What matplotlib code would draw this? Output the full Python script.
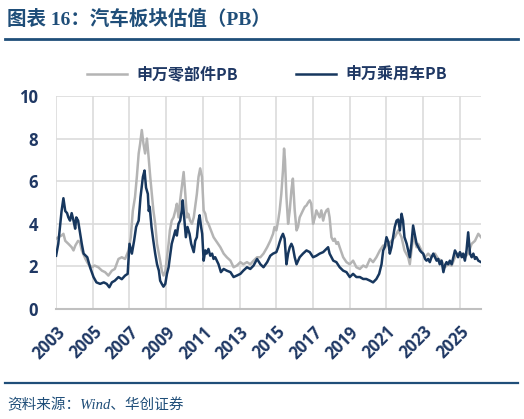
import numpy as np
import matplotlib.pyplot as plt
from matplotlib.lines import Line2D

# 申万零部件PB (grey)
dates_comp = [2003.0, 2003.12, 2003.3, 2003.4, 2003.5, 2003.67, 2003.85, 2003.95, 2004.05, 2004.2, 2004.3,
              2004.4, 2004.6, 2004.76, 2004.95, 2005.1, 2005.3, 2005.5, 2005.67, 2005.85, 2006.04, 2006.2,
              2006.4, 2006.58, 2006.76, 2006.95, 2007.07, 2007.18, 2007.3, 2007.4, 2007.5, 2007.58, 2007.67,
              2007.76, 2007.85, 2007.95, 2008.04, 2008.13, 2008.2, 2008.3, 2008.4, 2008.5, 2008.6, 2008.67,
              2008.76, 2008.85, 2008.95, 2009.04, 2009.13, 2009.2, 2009.3, 2009.4, 2009.5, 2009.58, 2009.67,
              2009.76, 2009.85, 2009.95, 2010.04, 2010.13, 2010.2, 2010.3, 2010.4, 2010.5, 2010.58, 2010.67,
              2010.76, 2010.85, 2010.95, 2011.04, 2011.13, 2011.2, 2011.3, 2011.4, 2011.5, 2011.58, 2011.76,
              2011.95, 2012.13, 2012.3, 2012.5, 2012.67, 2012.85, 2013.04, 2013.2, 2013.4, 2013.58, 2013.76,
              2013.95, 2014.13, 2014.3, 2014.5, 2014.67, 2014.82, 2014.9, 2015.0, 2015.1, 2015.18, 2015.27,
              2015.36, 2015.42, 2015.47, 2015.55, 2015.64, 2015.73, 2015.82, 2015.9, 2016.0, 2016.1, 2016.18,
              2016.27, 2016.36, 2016.45, 2016.55, 2016.64, 2016.73, 2016.82, 2016.9, 2017.0, 2017.1, 2017.18,
              2017.27, 2017.36, 2017.45, 2017.55, 2017.64, 2017.73, 2017.82, 2017.9, 2018.0, 2018.1, 2018.18,
              2018.27, 2018.36, 2018.45, 2018.64, 2018.82, 2019.0, 2019.18, 2019.36, 2019.55, 2019.73, 2019.9,
              2020.1, 2020.27, 2020.45, 2020.64, 2020.82, 2020.9, 2021.1, 2021.27, 2021.45, 2021.64, 2021.82,
              2021.98, 2022.18, 2022.27, 2022.36, 2022.45, 2022.55, 2022.64, 2022.73, 2022.9, 2023.1, 2023.27,
              2023.45, 2023.64, 2023.82, 2024.0, 2024.18, 2024.36, 2024.55, 2024.73, 2024.9, 2025.1, 2025.27,
              2025.45, 2025.64, 2025.82, 2026.0, 2026.15]
pb_comp = [3.3, 3.37, 3.45, 3.53, 3.2, 3.06, 2.9, 2.75, 2.98, 3.2, 3.14,
           2.75, 2.35, 2.1, 1.96, 2.04, 1.96, 1.8, 1.73, 1.57, 1.8, 1.88,
           2.35, 2.43, 2.35, 2.75, 3.37, 4.6, 5.25, 6.2, 7.3, 7.76, 8.4,
           7.76, 7.3, 8.0, 7.14, 6.2, 5.57, 4.63, 4.0, 3.06, 2.6, 2.27,
           1.8, 1.57, 1.75, 2.43, 3.06, 3.69, 4.15, 4.3, 4.63, 4.94, 4.3,
           5.1, 5.73, 6.43, 5.4, 4.3, 4.47, 4.15, 4.0, 4.3, 4.8, 5.4,
           6.2, 6.6, 6.2, 4.63, 4.47, 4.15, 4.0, 3.77, 3.53, 3.37, 3.14,
           2.9, 2.6, 2.43, 2.27, 1.96, 2.04, 2.2, 2.1, 2.2, 2.1, 2.27,
           2.43, 2.43, 2.6, 2.9, 3.2, 3.53, 3.85, 3.69, 4.15, 4.63, 5.4,
           6.5, 7.53, 7.0, 5.25, 4.0, 4.63, 5.57, 6.12, 4.63, 3.69, 3.85,
           4.3, 4.47, 4.63, 4.8, 4.86, 5.0, 5.1, 4.94, 4.0, 4.3, 4.63,
           4.47, 4.3, 4.63, 4.15, 4.47, 4.63, 4.7, 4.3, 3.37, 3.2, 3.3,
           3.06, 3.14, 2.9, 2.43, 2.2, 2.1, 2.27, 1.96, 1.88, 2.04, 1.96,
           2.35, 2.2, 2.43, 2.75, 2.98, 2.9, 3.06, 3.2, 3.37, 3.69, 3.37,
           2.75, 2.43, 2.1, 2.75, 3.37, 3.2, 2.9, 3.06, 2.75, 2.43, 2.6,
           2.43, 2.6, 2.35, 2.27, 1.96, 2.1, 2.04, 2.43, 2.6, 2.6, 2.43,
           2.6, 3.06, 3.2, 3.53, 3.37]

# 申万乘用车PB (navy)
dates_car = [2003.0, 2003.12, 2003.3, 2003.4, 2003.5, 2003.6, 2003.67, 2003.76, 2003.85, 2003.95, 2004.04,
             2004.1, 2004.2, 2004.3, 2004.4, 2004.5, 2004.7, 2004.85, 2005.04, 2005.2, 2005.4, 2005.6,
             2005.76, 2005.9, 2006.04, 2006.2, 2006.4, 2006.58, 2006.76, 2006.9, 2007.0, 2007.13, 2007.25,
             2007.36, 2007.5, 2007.6, 2007.73, 2007.82, 2007.9, 2008.0, 2008.05, 2008.1, 2008.2, 2008.3,
             2008.4, 2008.5, 2008.6, 2008.67, 2008.76, 2008.85, 2008.95, 2009.04, 2009.13, 2009.2, 2009.3,
             2009.4, 2009.5, 2009.58, 2009.67, 2009.76, 2009.85, 2009.9, 2009.98, 2010.07, 2010.16, 2010.27,
             2010.36, 2010.5, 2010.58, 2010.67, 2010.76, 2010.82, 2010.9, 2010.96, 2011.04, 2011.13, 2011.2,
             2011.3, 2011.4, 2011.5, 2011.58, 2011.67, 2011.76, 2011.85, 2011.98, 2012.13, 2012.3, 2012.5,
             2012.67, 2012.85, 2013.04, 2013.2, 2013.4, 2013.58, 2013.76, 2013.95, 2014.13, 2014.3, 2014.5,
             2014.67, 2014.82, 2015.0, 2015.1, 2015.18, 2015.27, 2015.36, 2015.45, 2015.55, 2015.64, 2015.73,
             2015.82, 2015.9, 2016.0, 2016.1, 2016.27, 2016.45, 2016.64, 2016.82, 2017.0, 2017.18, 2017.36,
             2017.55, 2017.73, 2017.82, 2017.9, 2018.1, 2018.27, 2018.45, 2018.64, 2018.82, 2019.0, 2019.18,
             2019.36, 2019.55, 2019.73, 2019.9, 2020.1, 2020.27, 2020.45, 2020.6, 2020.73, 2020.82, 2020.9,
             2021.0, 2021.1, 2021.18, 2021.27, 2021.36, 2021.45, 2021.55, 2021.64, 2021.73, 2021.82, 2021.9,
             2021.98, 2022.1, 2022.18, 2022.27, 2022.36, 2022.45, 2022.55, 2022.64, 2022.73, 2022.82, 2022.9,
             2023.0, 2023.1, 2023.18, 2023.27, 2023.36, 2023.45, 2023.55, 2023.64, 2023.73, 2023.82, 2023.9,
             2024.0, 2024.1, 2024.18, 2024.27, 2024.36, 2024.45, 2024.55, 2024.73, 2024.82, 2024.9, 2025.0,
             2025.1, 2025.18, 2025.27, 2025.36, 2025.45, 2025.55, 2025.64, 2025.73, 2025.82, 2025.9, 2026.0,
             2026.15]
pb_car = [2.5, 3.06, 4.6, 5.2, 4.6, 4.5, 4.3, 4.15, 4.5, 4.15, 3.77,
          4.3, 4.15, 3.6, 3.06, 2.6, 2.43, 1.96, 1.5, 1.25, 1.18, 1.25,
          1.18, 1.02, 1.25, 1.33, 1.5, 1.4, 1.57, 1.65, 3.06, 2.6, 3.2,
          3.85, 4.15, 5.25, 6.2, 6.5, 5.7, 5.4, 4.6, 4.8, 3.85, 3.2,
          2.6, 2.1, 1.8, 1.33, 1.18, 1.05, 1.18, 1.65, 1.96, 2.43, 3.06,
          3.37, 3.69, 3.45, 4.0, 4.15, 4.63, 5.1, 4.3, 3.37, 3.85, 3.53,
          3.06, 2.67, 3.2, 3.37, 4.15, 4.4, 3.85, 3.53, 2.27, 2.75, 2.6,
          2.82, 2.5, 2.6, 2.35, 2.43, 2.27, 2.1, 1.73, 1.88, 1.8, 1.73,
          1.5, 1.57, 1.65, 1.8, 1.96, 1.88, 2.04, 2.35, 2.1, 1.96, 2.2,
          2.5, 2.6, 2.67, 2.9, 3.14, 3.37, 3.53, 3.3, 2.1, 2.6, 2.9,
          3.06, 2.9, 2.43, 2.1, 2.43, 2.6, 2.75, 2.67, 2.43, 2.5, 2.6,
          2.67, 2.82, 2.9, 2.6, 2.27, 2.2, 1.96, 1.8, 1.73, 1.5, 1.65,
          1.5, 1.5, 1.41, 1.41, 1.33, 1.25, 1.41, 1.65, 2.1, 2.75, 2.9,
          3.37, 3.14, 2.6, 2.9, 3.37, 3.85, 4.15, 4.2, 3.69, 4.47, 4.15,
          3.37, 3.06, 2.75, 2.43, 3.06, 3.92, 3.45, 3.06, 2.9, 2.75, 2.67,
          2.6, 2.35, 2.27, 2.35, 2.2, 2.43, 2.6, 2.43, 2.27, 2.35, 2.1,
          2.27, 1.73, 2.04, 2.2, 2.1, 2.27, 2.1, 2.75, 2.6, 2.43, 2.67,
          2.43, 2.6, 2.27, 2.75, 3.6, 2.6, 2.43, 2.6, 2.35, 2.43, 2.27,
          2.2]

year_ticks = list(range(2003, 2026, 2))
y_ticks = [0, 2, 4, 6, 8, 10]

navy = '#17375e'
grey = '#b4b4b4'
text_blue = '#1f3864'

plt.rcParams['font.family'] = ['Noto Sans CJK SC', 'DejaVu Sans']

fig = plt.figure(figsize=(5.24, 4.19), dpi=100)
ax = fig.add_axes([0.107, 0.2625, 0.811, 0.5085])

ax.plot(dates_comp, pb_comp, color=grey, lw=1.8, zorder=3)
ax.plot(dates_car, pb_car, color=navy, lw=1.8, zorder=4)

ax.set_xlim(2003, 2026.15)
ax.set_ylim(0, 10)
ax.set_xticks(year_ticks)
ax.set_yticks(y_ticks)
ax.grid(True, color='#dcdcdc', lw=1.2, zorder=0)
ax.tick_params(length=0)
for s in ['top', 'right', 'left']:
    ax.spines[s].set_visible(False)
ax.spines['bottom'].set_color('#c0c0c0')
ax.spines['bottom'].set_linewidth(1.5)

ax.set_xticklabels([str(y) for y in year_ticks], rotation=45, ha='right',
                   rotation_mode='anchor', fontsize=12, fontweight='bold',
                   color=text_blue, family='Open Sans')
ax.set_yticklabels([str(v) for v in y_ticks], fontsize=12, fontweight='bold',
                   color=text_blue, family='Open Sans')
ax.tick_params(axis='y', pad=13)
ax.tick_params(axis='x', pad=10)

# legend
handles = [Line2D([], [], color=grey, lw=1.8), Line2D([], [], color=navy, lw=1.8)]
fig.legend(handles, ['申万零部件PB', '申万乘用车PB'], loc='center',
           bbox_to_anchor=(0.51, 0.823), ncol=2, frameon=False,
           handlelength=2.5, columnspacing=3.6, handletextpad=0.6,
           prop={'family': 'Noto Sans CJK SC', 'weight': 'bold', 'size': 11.5},
           labelcolor=text_blue)

# title and source
fig.text(0.013, 0.955, '图表 16：汽车板块估值（PB）', fontsize=14, fontweight='bold',
         color='#1f4e79', va='center', ha='left',
         family=['Liberation Serif', 'Noto Sans CJK SC'])
fig.add_artist(Line2D([0.01, 0.988], [0.907, 0.907], color='#1f4e79', lw=2))
fig.add_artist(Line2D([0.01, 0.988], [0.086, 0.086], color='#1f4e79', lw=1.6))
fig.text(0.013, 0.033, '资料来源：Wind、华创证券', fontsize=10.5, style='italic',
         color='#1f4e79', va='center', ha='left',
         family=['Liberation Serif', 'Noto Sans CJK SC'])

fig.savefig('out.png', dpi=100)
